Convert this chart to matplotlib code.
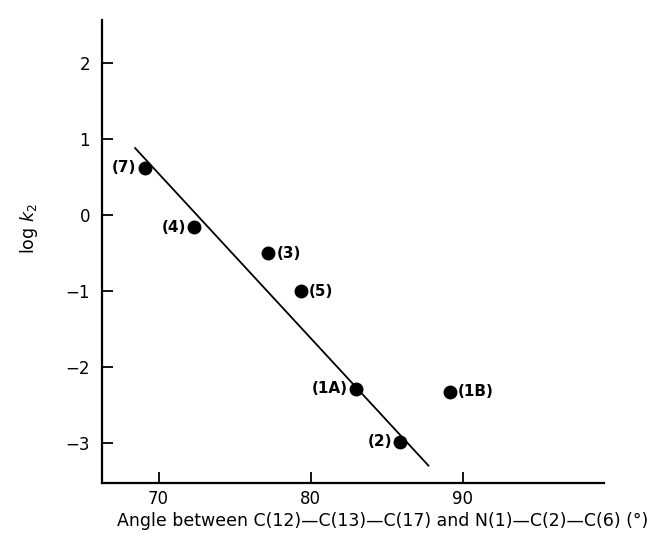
import matplotlib
matplotlib.use("Agg")
import matplotlib.pyplot as plt

# compounds
labels = ["(7)", "(4)", "(3)", "(5)", "(1A)", "(1B)", "(2)"]
angle = [69.1, 72.35, 77.2, 79.35, 83.0, 89.15, 85.9]
log_k2 = [0.62, -0.16, -0.50, -1.0, -2.28, -2.32, -2.98]
label_side = ["left", "left", "right", "right", "left", "right", "left"]

# regression line end points
fit_x = [68.45, 87.75]
fit_y = [0.88, -3.29]

plt.rcParams["font.family"] = "DejaVu Sans"

fig = plt.figure(figsize=(6.48, 5.44), dpi=100)
ax = fig.add_axes([0.158, 0.112, 0.774, 0.851])

ax.plot(fit_x, fit_y, "-", color="black", lw=1.3)
ax.plot(angle, log_k2, "o", color="black", ms=9)

for lab, xv, yv, side in zip(labels, angle, log_k2, label_side):
    if side == "left":
        ax.annotate(lab, (xv, yv), xytext=(-6, 0), textcoords="offset points",
                    ha="right", va="center", fontsize=11, fontweight="bold")
    else:
        ax.annotate(lab, (xv, yv), xytext=(6, 0), textcoords="offset points",
                    ha="left", va="center", fontsize=11, fontweight="bold")

ax.set_xlim(66.3, 99.3)
ax.set_ylim(-3.52, 2.56)
ax.set_xticks([70, 80, 90])
ax.set_yticks([-3, -2, -1, 0, 1, 2])
ax.set_yticklabels(["\u22123", "\u22122", "\u22121", "0", "1", "2"])
ax.tick_params(direction="in", length=8, width=1.3, labelsize=12, pad=5)
ax.tick_params(axis="y", pad=9)
for s in ["top", "right"]:
    ax.spines[s].set_visible(False)
for s in ["left", "bottom"]:
    ax.spines[s].set_linewidth(1.6)

fig.text(0.045, 0.58, r"log $k_2$", rotation=90, ha="center", va="center", fontsize=12.5)
fig.text(0.59, 0.043,
         "Angle between C(12)\u2014C(13)\u2014C(17) and N(1)\u2014C(2)\u2014C(6) (\u00b0)",
         ha="center", va="center", fontsize=12.5)

fig.savefig("out.png", dpi=100)
